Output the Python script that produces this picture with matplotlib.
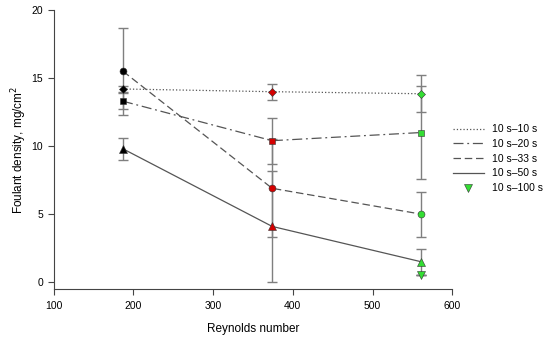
import matplotlib.pyplot as plt

plt.rcParams['font.family'] = ['Liberation Sans', 'DejaVu Sans']

reynolds = [187, 374, 561]
point_colors = ['black', '#d40000', '#33dd33']

fd_10 = [14.2, 14.0, 13.85]
err_10 = [0.2, 0.6, 1.35]
fd_20 = [13.3, 10.4, 11.0]
err_20 = [0.6, 1.7, 3.4]
fd_33 = [15.5, 6.9, 5.0]
err_33 = [3.2, 3.6, 1.65]
fd_50 = [9.8, 4.1, 1.5]
err_50 = [0.8, 4.1, 0.95]
re_100 = [561]
fd_100 = [0.55]
err_100 = [0.0]

labels = ['10 s\u201310 s', '10 s\u201320 s', '10 s\u201333 s', '10 s\u201350 s', '10 s\u2013100 s']

fig = plt.figure(figsize=(5.5, 3.41), dpi=100)
ax = fig.add_axes([0.0975, 0.1525, 0.725, 0.818])

line_col = '#555555'
err_col = '#7f7f7f'

series = [
    (fd_10, err_10, ':', 'D', 4),
    (fd_20, err_20, (0, (8, 3, 1.5, 3)), 's', 5),
    (fd_33, err_33, (0, (6, 3)), 'o', 5),
    (fd_50, err_50, '-', '^', 5.5),
]

for (vals, errs, ls, mk, ms), lab in zip(series, labels):
    ax.errorbar(reynolds, vals, yerr=errs, fmt='none', ecolor=err_col,
                elinewidth=1, capsize=3.5, capthick=1, zorder=1)
    ax.plot(reynolds, vals, linestyle=ls, color=line_col, lw=0.9, label=lab, zorder=2)
    for xv, yv, c in zip(reynolds, vals, point_colors):
        ax.plot(xv, yv, marker=mk, color=c, mec='#333333', mew=0.4, ms=ms,
                linestyle='none', zorder=3)

ax.errorbar(re_100, fd_100, yerr=err_100, fmt='none', ecolor=err_col,
            elinewidth=1, capsize=3.5, zorder=1)
ax.plot(re_100, fd_100, marker='v', color='#33dd33', mec='#333333', mew=0.4,
        ms=5.5, linestyle='none', label=labels[4], zorder=3)

ax.set_xlim(100, 600)
ax.set_ylim(-0.5, 20)
ax.set_xticks([100, 200, 300, 400, 500, 600])
ax.set_yticks([0, 5, 10, 15, 20])
ax.spines['top'].set_visible(False)
ax.spines['right'].set_visible(False)
for s in ['left', 'bottom']:
    ax.spines[s].set_color('#444444')
    ax.spines[s].set_linewidth(0.8)
ax.tick_params(direction='out', length=4, width=0.8, color='#444444', labelsize=7.5)
ax.tick_params(axis='x', pad=5)

ax.set_xlabel('Reynolds number', fontsize=8.5, labelpad=8)
ax.set_ylabel('Foulant density, mg/cm$^2$', fontsize=8.5, labelpad=2)

ax.legend(loc='upper left', bbox_to_anchor=(0.99, 0.605), frameon=False,
          fontsize=7.5, handlelength=3.0, handletextpad=0.8, labelspacing=0.45,
          borderaxespad=0)

fig.savefig('out.png', dpi=100)
